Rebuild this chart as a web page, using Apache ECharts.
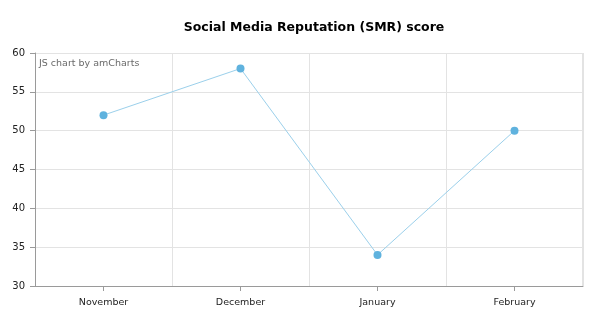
<!DOCTYPE html>
<html>
<head>
<meta charset="utf-8">
<script src="https://cdn.jsdelivr.net/npm/echarts@6/dist/echarts.min.js"></script>
<style>
  html, body { margin: 0; padding: 0; background: #fff; }
  #chart { width: 600px; height: 324px; }
</style>
</head>
<body>
<div id="chart"></div>
<script>
// Monthly SMR score
const months = ['November', 'December', 'January', 'February'];
const smrScores = [52, 58, 34, 50];
const yTicks = { min: 30, max: 60, step: 5 };

const chart = echarts.init(document.getElementById('chart'), null, { renderer: 'canvas' });

const gridLeft = 35, gridTop = 53, gridWidth = 548, gridHeight = 233;

chart.setOption({
  backgroundColor: '#ffffff',
  animation: false,
  title: {
    text: 'Social Media Reputation (SMR) score',
    left: 309,
    top: 16,
    textAlign: 'center',
    textStyle: { fontFamily: 'DejaVu Sans', fontWeight: 'bold', fontSize: 12.5, color: '#000' }
  },
  graphic: [
    {
      type: 'text',
      left: 39,
      top: 59,
      style: { text: 'JS chart by amCharts', fontFamily: 'DejaVu Sans', fontSize: 9.5, fill: '#6a6a6a' }
    },
    {
      // plot frame (top and right edges)
      type: 'polyline',
      shape: { points: [[gridLeft, gridTop + 0.5], [gridLeft + gridWidth - 0.5, gridTop + 0.5], [gridLeft + gridWidth - 0.5, gridTop + gridHeight]] },
      style: { stroke: '#e3e3e3', lineWidth: 1, fill: null },
      z: 0
    }
  ],
  grid: { left: gridLeft, top: gridTop, width: gridWidth, height: gridHeight, containLabel: false },
  xAxis: {
    type: 'category',
    data: months,
    boundaryGap: true,
    axisLine: { show: true, lineStyle: { color: '#9a9a9a', width: 1 } },
    axisTick: { show: true, alignWithLabel: true, length: 5, lineStyle: { color: '#9a9a9a' } },
    axisLabel: { fontFamily: 'DejaVu Sans', fontSize: 9.5, color: '#222', margin: 12 },
    splitLine: { show: true, lineStyle: { color: '#e3e3e3', width: 1 } }
  },
  yAxis: {
    type: 'value',
    min: yTicks.min,
    max: yTicks.max,
    interval: yTicks.step,
    axisLine: { show: true, lineStyle: { color: '#9a9a9a', width: 1 } },
    axisTick: { show: true, length: 5, lineStyle: { color: '#9a9a9a' } },
    axisLabel: { fontFamily: 'DejaVu Sans', fontSize: 10, color: '#222', margin: 10 },
    splitLine: { show: true, lineStyle: { color: '#e3e3e3', width: 1 } }
  },
  series: [{
    type: 'line',
    data: smrScores,
    symbol: 'circle',
    symbolSize: 8,
    lineStyle: { color: '#9bd0eb', width: 1 },
    itemStyle: { color: '#5fb2de' },
    z: 3
  }]
});
</script>
</body>
</html>
